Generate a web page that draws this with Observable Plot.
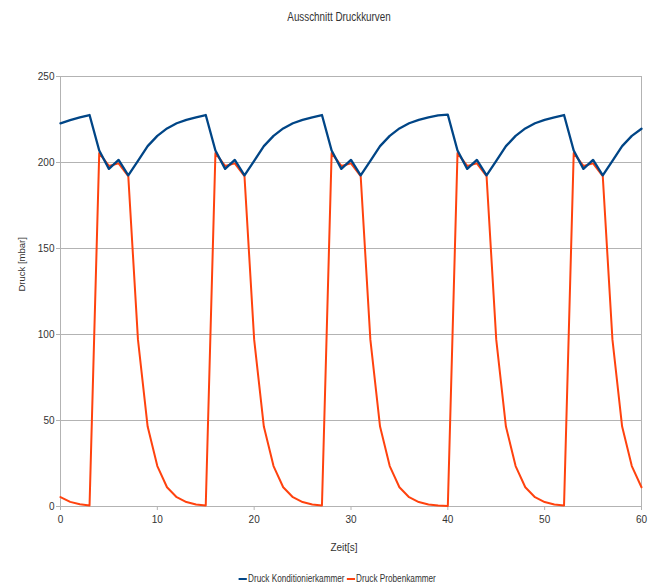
<!DOCTYPE html>
<html><head><meta charset="utf-8">
<script src="https://cdn.jsdelivr.net/npm/d3@7"></script>
<script src="https://cdn.jsdelivr.net/npm/@observablehq/plot@0.6"></script>
<style>
body{margin:0;background:#fff;font-family:"Liberation Sans Narrow","Arial Narrow","Liberation Sans",sans-serif;}
#wrap{position:relative;width:654px;height:585px;overflow:hidden;}
#title{position:absolute;top:10px;left:0;width:678px;text-align:center;font-size:12px;color:#333;transform:scaleX(0.82);transform-origin:339px 0;}
#chart{position:absolute;top:40px;left:0;}
#legend{position:absolute;top:573px;left:0;width:675px;text-align:center;font-size:10px;color:#333;white-space:nowrap;transform:scaleX(0.82);transform-origin:337px 0;}
.sw{display:inline-block;width:10px;height:2px;vertical-align:middle;margin-right:1px;}
</style></head>
<body>
<div id="wrap">
<div id="title">Ausschnitt Druckkurven</div>
<div id="chart"></div>
<div id="legend"></div>
</div>
<script>
const titleText = "Ausschnitt Druckkurven";
const xLabel = "Zeit[s]";
const yLabel = "Druck [mbar]";
const seriesNames = ["Druck Konditionierkammer", "Druck Probenkammer"];
const seriesColors = ["#004586", "#ff420e"];
const xTicks = [0, 10, 20, 30, 40, 50, 60];
const yTicks = [0, 50, 100, 150, 200, 250];

const zeit = [0,1,2,3,4,5,6,7,8,9,10,11,12,13,14,15,16,17,18,19,20,21,22,23,24,25,26,27,28,29,30,31,32,33,34,35,36,37,38,39,40,41,42,43,44,45,46,47,48,49,50,51,52,53,54,55,56,57,58,59,60];

const konditionierkammer = [
  222.8,224.6,226.2,227.6,207,196.3,201.5,192.5,201,209.5,215.5,219.8,222.8,224.8,226.3,227.6,
  207,196.3,201.5,192.5,201,209.5,215.5,219.8,222.8,224.8,226.3,227.6,
  207,196.3,201.5,192.5,201,209.5,215.5,219.8,222.8,224.8,226.3,227.4,227.8,
  207,196.3,201.5,192.5,201,209.5,215.5,219.8,222.8,224.8,226.3,227.6,
  207,196.3,201.5,192.5,201,209.5,215.5,219.6
];

const probenkammer = [
  5.5,2.7,1.3,0.6,205.5,198,199.5,192,97,46.5,23.5,11.2,5.4,2.6,1.2,0.6,
  205.5,198,199.5,192,97,46.5,23.5,11.2,5.4,2.6,1.2,0.6,
  205.5,198,199.5,192,97,46.5,23.5,11.2,5.4,2.6,1.2,0.6,0.3,
  205.5,198,199.5,192,97,46.5,23.5,11.2,5.4,2.6,1.2,0.6,
  205.5,198,199.5,192,97,46.5,23.5,11.2
];

const rowsK = zeit.map((t, i) => ({t, v: konditionierkammer[i], series: seriesNames[0]}));
const rowsP = zeit.map((t, i) => ({t, v: probenkammer[i], series: seriesNames[1]}));

const font = '"Liberation Sans Narrow","Arial Narrow","Liberation Sans",sans-serif';
const grid = "#b3b3b3";

const chart = Plot.plot({
  width: 654,
  height: 520,
  marginLeft: 60,
  marginRight: 13,
  marginTop: 36,
  marginBottom: 54,
  style: {fontFamily: font, fontSize: "10px", color: "#333", background: "#fff"},
  x: {domain: [0, 60]},
  y: {domain: [0, 250]},
  color: {domain: seriesNames, range: seriesColors},
  marks: [
    Plot.gridY(yTicks, {stroke: grid, strokeOpacity: 1}),
    Plot.ruleX([0, 60], {stroke: grid}),
    Plot.axisY(yTicks, {tickSize: 4, tickPadding: 2, stroke: grid, label: null}),
    Plot.axisX(xTicks, {tickSize: 4, tickPadding: 5, stroke: grid, label: null}),
    Plot.line(rowsP, {x: "t", y: "v", stroke: "series", strokeWidth: 2}),
    Plot.line(rowsK, {x: "t", y: "v", stroke: "series", strokeWidth: 2.3}),
    Plot.text([xLabel], {text: d => d, frameAnchor: "bottom", dy: 44, dx: -7, fontSize: 10}),
    Plot.text([yLabel], {text: d => d, frameAnchor: "left", rotate: -90, dx: -39, fontSize: 9.5})
  ]
});
document.getElementById("chart").appendChild(chart);

document.getElementById("title").textContent = titleText;
const leg = document.getElementById("legend");
seriesNames.forEach((n, i) => {
  const s = document.createElement("span");
  s.className = "sw";
  s.style.background = seriesColors[i];
  leg.appendChild(s);
  const t = document.createElement("span");
  t.textContent = n;
  t.style.marginRight = i === 0 ? "3px" : "0";
  leg.appendChild(t);
});
</script>
</body></html>
